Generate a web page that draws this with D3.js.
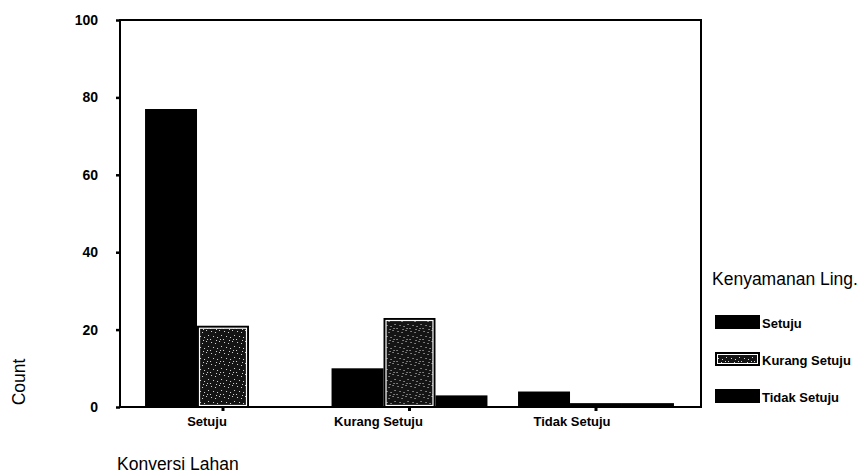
<!DOCTYPE html>
<html>
<head>
<meta charset="utf-8">
<script src="https://cdn.jsdelivr.net/npm/d3@7"></script>
<style>
  html, body { margin: 0; padding: 0; background: #fff; }
  svg { display: block; font-family: "Liberation Sans", Arial, sans-serif; }
</style>
</head>
<body>
<svg id="chart" width="863" height="473"></svg>
<script>
// ---- data ----
const categories = ["Setuju", "Kurang Setuju", "Tidak Setuju"];       // Konversi Lahan
const seriesNames = ["Setuju", "Kurang Setuju", "Tidak Setuju"];      // Kenyamanan Ling.
const valuesSetuju = [77, 10, 4];
const valuesKurangSetuju = [21, 23, 1];
const valuesTidakSetuju = [0, 3, 1];
const yTicks = [0, 20, 40, 60, 80, 100];

const seriesValues = [valuesSetuju, valuesKurangSetuju, valuesTidakSetuju];

const svg = d3.select("#chart");

// pattern for the speckled series
const defs = svg.append("defs");
const pat = defs.append("pattern").attr("id", "speckle")
  .attr("patternUnits", "userSpaceOnUse").attr("width", 13).attr("height", 11);
pat.append("rect").attr("width", 13).attr("height", 11).attr("fill", "#141414");
const dots = [[1,1],[5,2],[9,0],[11,5],[3,6],[7,7],[0,9],[10,9],[6,10]];
pat.selectAll("rect.d").data(dots).join("rect").attr("class", "d")
  .attr("x", d => d[0]).attr("y", d => d[1]).attr("width", 1).attr("height", 1)
  .attr("fill", "#d8d8d8");

const plot = { left: 120, right: 701, top: 20, bottom: 407 };

const x0 = d3.scaleBand().domain(categories).range([129.75, 689.25])
  .paddingInner(0.164).paddingOuter(0.082);
const x1 = d3.scaleBand().domain(seriesNames).range([0, x0.bandwidth()]);
const y = d3.scaleLinear().domain([0, 100]).range([plot.bottom, plot.top]);

// bars
const groups = svg.append("g").selectAll("g").data(categories).join("g")
  .attr("transform", d => `translate(${x0(d)},0)`);

groups.each(function(cat, ci) {
  const g = d3.select(this);
  seriesNames.forEach((s, si) => {
    const v = seriesValues[si][ci];
    if (v <= 0) return;
    const bx = x1(s), bw = x1.bandwidth(), by = y(v), bh = y(0) - y(v);
    g.append("rect").attr("x", bx).attr("y", by).attr("width", bw).attr("height", bh)
      .attr("fill", "#000");
    if (si === 1 && bh > 6) {
      g.append("rect").attr("x", bx + 2.5).attr("y", by + 2.5)
        .attr("width", bw - 5).attr("height", bh - 4)
        .attr("fill", "url(#speckle)").attr("stroke", "#fff").attr("stroke-width", 1.2);
    }
  });
});

// frame
svg.append("rect").attr("x", plot.left).attr("y", plot.top)
  .attr("width", plot.right - plot.left).attr("height", plot.bottom - plot.top)
  .attr("fill", "none").attr("stroke", "#000").attr("stroke-width", 2);

// y axis
const yAxis = d3.axisLeft(y).tickValues(yTicks).tickSize(4).tickPadding(18);
const yg = svg.append("g").attr("transform", `translate(${plot.left},0)`).call(yAxis);
yg.select(".domain").remove();
yg.selectAll(".tick line").attr("stroke", "#000").attr("stroke-width", 2.5);
yg.selectAll(".tick text").attr("font-size", 14).attr("font-weight", "bold")
  .attr("fill", "#000").attr("font-family", "Liberation Sans, Arial, sans-serif");

// x axis
const xAxis = d3.axisBottom(x0).tickSize(4).tickPadding(6);
const xg = svg.append("g").attr("transform", `translate(0,${plot.bottom})`).call(xAxis);
xg.select(".domain").remove();
xg.selectAll(".tick line").attr("stroke", "#000").attr("stroke-width", 3);
const xOffsets = [-16, -31, -24];
xg.selectAll(".tick text").attr("font-size", 13).attr("font-weight", "bold")
  .attr("fill", "#000").attr("font-family", "Liberation Sans, Arial, sans-serif")
  .attr("dx", (d, i) => xOffsets[i]);

// axis titles
svg.append("text").attr("x", 117).attr("y", 470).attr("font-size", 17.5)
  .attr("fill", "#000").text("Konversi Lahan");
svg.append("text").attr("transform", "translate(25,382) rotate(-90)")
  .attr("text-anchor", "middle").attr("font-size", 17.5).attr("fill", "#000").text("Count");

// legend
const leg = svg.append("g").attr("transform", "translate(712,285)");
leg.append("text").attr("x", 0).attr("y", 0).attr("font-size", 17.5).attr("fill", "#000")
  .text("Kenyamanan Ling.");
const items = leg.selectAll("g.item").data(seriesNames).join("g").attr("class", "item")
  .attr("transform", (d, i) => `translate(3,${30 + i * 37})`);
items.each(function(d, i) {
  const g = d3.select(this);
  g.append("rect").attr("width", 45).attr("height", 14).attr("fill", "#000");
  if (i === 1) {
    g.append("rect").attr("x", 2.5).attr("y", 2.5).attr("width", 40).attr("height", 9)
      .attr("fill", "url(#speckle)").attr("stroke", "#fff").attr("stroke-width", 1);
  }
});
items.append("text").attr("x", 47).attr("y", 13).attr("font-size", 13)
  .attr("font-weight", "bold").attr("fill", "#000").text(d => d);
</script>
</body>
</html>
